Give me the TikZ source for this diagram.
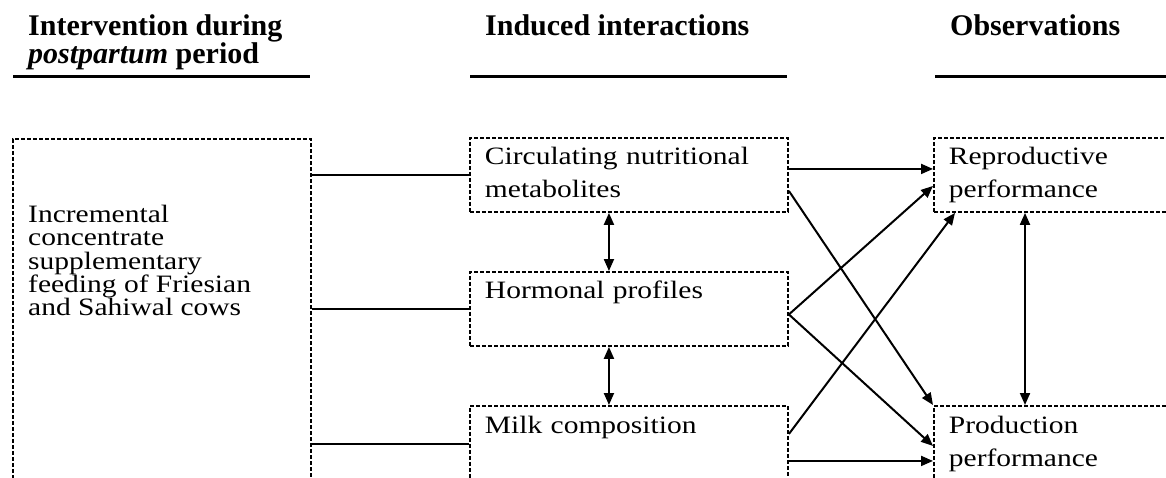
\documentclass[tikz,border=0pt]{standalone}
\usepackage{fontspec}
\setmainfont{Liberation Serif}
\newfontfamily\bodyfont{Liberation Serif}[FakeStretch=1.18]
\usepackage{tikz}
\usetikzlibrary{arrows.meta,positioning,calc}
\newcommand{\tightlines}{\setlength{\lineskiplimit}{-20pt}}

\begin{document}
\begin{tikzpicture}[x=1pt,y=-1pt,
    box/.style={draw, dash pattern=on 4pt off 2pt, line width=1.9pt, inner xsep=15pt, inner ysep=0pt, align=left, anchor=north west, font=\bodyfont\fontsize{25}{33}\selectfont},
    link/.style={line width=2pt},
    arr/.style={line width=2pt, -{Triangle[length=12pt,width=10pt]}},
    darr/.style={line width=2pt, {Triangle[length=12pt,width=10pt]}-{Triangle[length=12pt,width=10pt]}},
    head/.style={font=\tightlines\fontsize{30}{28}\selectfont\bfseries, align=left, anchor=north west, inner sep=0pt},
    rule/.style={line width=3pt}]
  \useasboundingbox (0,0) rectangle (1166,478);
  \clip (0,0) rectangle (1166,478);
  % headings
  \node[head] (hfeed) at (28,14.5) {Intervention during\\\textit{postpartum} period};
  \node[head] (hinter) at (485,14.5) {Induced interactions};
  \node[head] (hobs) at (950,14.5) {Observations};
  \draw[rule] (13,77) -- (310,77);
  \draw[rule] (470,77) -- (787,77);
  \draw[rule] (935,77) -- (1170,77);
  % left box
  \node[box, minimum width=298pt, minimum height=400pt] (feed) at (12,138) {};
  \node[anchor=north west, inner sep=0pt, align=left, font=\tightlines\bodyfont\fontsize{25}{23.3}\selectfont] (feedtxt) at (28,204.9)
    {Incremental\\concentrate\\supplementary\\feeding of Friesian\\and Sahiwal cows};
  % middle boxes
  \node[box, text width=288pt, minimum height=74pt] (circ) at (469,137) {Circulating nutritional\\metabolites\vphantom{p}};
  \node[box, text width=288pt, minimum height=74pt] (horm) at (469,271) {Hormonal profiles\\\vphantom{p}};
  \node[box, text width=288pt, minimum height=76pt] (milk) at (469,405) {Milk composition\\\vphantom{p}};
  % right boxes
  \node[box, text width=270pt, minimum height=74pt] (repro) at (933,137) {Reproductive\\performance};
  \node[box, text width=270pt, minimum height=76pt] (prod) at (933,405) {Production\\performance};
  % lines from the left box
  \draw[link] (circ.west -| feed.east) -- (circ.west);
  \draw[link] (horm.west -| feed.east) -- (horm.west);
  \draw[link] (milk.west -| feed.east) -- (milk.west);
  % two-way arrows
  \draw[darr] ([xshift=-20pt]circ.south) -- ([xshift=-20pt]horm.north);
  \draw[darr] ([xshift=-20pt]horm.south) -- ([xshift=-20pt]milk.north);
  \draw[darr] ([xshift=92pt]repro.south west) -- ([xshift=92pt]prod.north west);
  % arrows to observations
  \coordinate (c1) at ([yshift=6pt]circ.east);
  \coordinate (c2) at ([yshift=-16pt]circ.east);
  \coordinate (h1) at ([yshift=-5.5pt]horm.east);
  \coordinate (m1) at ([yshift=10pt]milk.east);
  \coordinate (m2) at ([yshift=-17pt]milk.east);
  \draw[arr] (c1) -- (c1 -| repro.west);
  \draw[arr] (c2) -- (prod.north west);
  \draw[arr] (h1) -- ([yshift=-11pt]repro.west);
  \draw[arr] (h1) -- ([yshift=-2pt]prod.west);
  \draw[arr] (m1) -- ([xshift=22pt]repro.south west);
  \draw[arr] (m2) -- (m2 -| prod.west);
\end{tikzpicture}
\end{document}
